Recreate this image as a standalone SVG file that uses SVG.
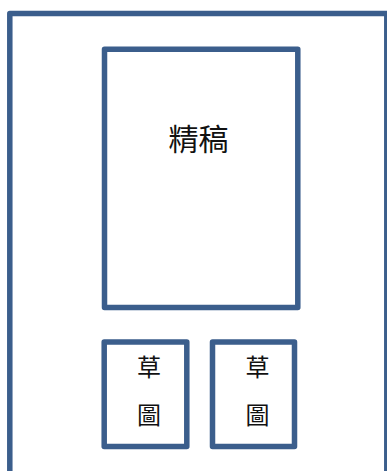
<svg xmlns="http://www.w3.org/2000/svg" width="387" height="471" viewBox="0 0 387 471">
<style>
.box{fill:#fff;stroke:#3b5e8c;stroke-width:5.5;stroke-linejoin:round}
.t{font-family:"Noto Sans CJK TC","Noto Sans CJK SC",sans-serif;fill:#111;text-anchor:middle}
</style>
<rect x="0" y="0" width="387" height="471" fill="#fff"/>
<g id="frame"><rect class="box" x="9.8" y="13.5" width="377" height="470"/></g>
<g id="final"><rect class="box" x="104.5" y="49.3" width="193.3" height="258.2"/><text class="t" x="198.5" y="150" font-size="30">精稿</text></g>
<g id="sketch1"><rect class="box" x="104.2" y="342" width="82.6" height="104.5"/><text class="t" x="149" y="376" font-size="24">草</text><text class="t" x="149" y="424" font-size="24">圖</text></g>
<g id="sketch2"><rect class="box" x="212.5" y="342" width="82" height="104.5"/><text class="t" x="257.5" y="376" font-size="24">草</text><text class="t" x="257.5" y="424" font-size="24">圖</text></g>
<g id="connectors"/>
</svg>
